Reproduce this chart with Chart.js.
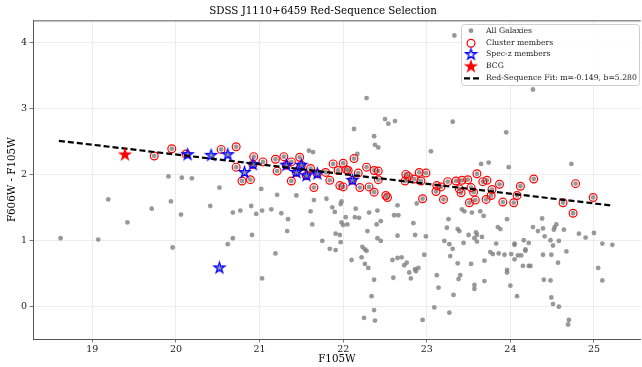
<!DOCTYPE html>
<html>
<head>
<meta charset="utf-8">
<script src="https://cdn.jsdelivr.net/npm/chart.js@4.4.1/dist/chart.umd.min.js"></script>
<style>
  html, body { margin: 0; padding: 0; overflow: hidden; background: #fff; }
</style>
</head>
<body>
<canvas id="rsChart" width="646" height="367"></canvas>
<script>
// --- Data ---
// Field galaxies (not selected as members)
const fieldMag = [
  18.62, 19.07, 19.19, 19.42, 19.71, 19.91, 19.94, 19.96, 20.06, 20.07, 20.19, 20.41, 20.52, 20.62, 20.68, 20.77,
  20.68, 20.90, 20.91, 20.96, 21.02, 21.03, 21.03, 21.14, 21.19, 21.21, 21.26, 21.33, 21.34, 21.44, 21.59, 21.64,
  21.61, 21.63, 21.65, 21.75, 21.80, 21.84, 21.87, 21.90, 21.91, 21.91, 21.96, 21.97, 21.97, 21.98, 21.98, 22.00,
  22.03, 22.05, 22.10, 22.13, 22.14, 22.15, 22.17, 22.19, 22.22, 22.23, 22.25, 22.26, 22.26, 22.28, 22.28, 22.29,
  22.30, 22.31, 22.34, 22.37, 22.37, 22.37, 22.38, 22.38, 22.40, 22.41, 22.41, 22.42, 22.45, 22.45, 22.50, 22.54,
  22.59, 22.60, 22.61, 22.62, 22.65, 22.65, 22.65, 22.66, 22.70, 22.73, 22.76, 22.79, 22.81, 22.84, 22.86, 22.86,
  22.87, 22.88, 22.90, 22.95, 22.97, 22.99, 23.05, 23.09, 23.12, 23.14, 23.21, 23.24, 23.26, 23.27, 23.27, 23.28,
  23.31, 23.31, 23.32, 23.33, 23.37, 23.37, 23.38, 23.39, 23.40, 23.42, 23.44, 23.45, 23.50, 23.53, 23.54, 23.57,
  23.57, 23.57, 23.59, 23.60, 23.60, 23.64, 23.65, 23.66, 23.68, 23.69, 23.69, 23.74, 23.76, 23.79, 23.83, 23.85,
  23.86, 23.88, 23.93, 23.95, 23.96, 23.96, 23.96, 23.98, 24.00, 24.01, 24.05, 24.05, 24.05, 24.08, 24.09, 24.13,
  24.15, 24.16, 24.18, 24.18, 24.22, 24.22, 24.24, 24.27, 24.27, 24.33, 24.38, 24.39, 24.39, 24.40, 24.41, 24.48,
  24.48, 24.49, 24.49, 24.51, 24.51, 24.52, 24.53, 24.55, 24.57, 24.58, 24.58, 24.64, 24.67, 24.69, 24.70, 24.73,
  24.82, 24.90, 25.00, 25.05, 25.10, 25.10, 25.22
];
const fieldColor = [
  1.03, 1.01, 1.62, 1.27, 1.48, 1.97, 1.59, 0.89, 1.39, 1.95, 1.94, 1.52, 1.80, 0.94, 1.42, 1.45,
  1.03, 1.52, 1.08, 1.40, 1.78, 1.45, 0.42, 1.47, 0.80, 1.69, 1.41, 1.14, 1.32, 1.68, 2.36, 2.34,
  1.44, 1.24, 1.61, 0.99, 1.63, 0.87, 1.50, 1.43, 1.10, 0.85, 1.08, 1.55, 0.97, 1.59, 1.27, 1.23,
  1.35, 1.24, 0.70, 2.69, 1.35, 1.48, 2.31, 1.34, 0.74, 0.90, -0.18, 0.86, 0.64, 3.16, 0.84, 1.14,
  0.58, 1.42, 0.15, 2.58, 0.40, -0.06, 2.45, -0.22, 1.24, 1.45, 1.03, 2.41, 1.29, 0.99, 2.84, 2.77,
  0.70, 0.43, 1.38, 2.81, 1.53, 1.07, 0.73, 1.38, 0.74, 0.62, 0.66, 0.51, 0.42, 1.26, 1.08, 0.56,
  0.53, 1.56, 0.58, -0.21, 0.78, 1.06, 2.35, -0.02, 0.47, 0.28, 0.99, 1.19, 1.32, 0.94, -0.10, 0.76,
  2.80, 0.87, 0.17, 4.11, 1.17, 0.65, 0.41, 1.14, 0.47, 1.47, 0.96, 1.44, 1.08, 0.64, 1.42, 1.03,
  0.32, 0.26, 1.12, 1.08, 0.98, 1.44, 2.16, 1.05, 1.37, 0.69, 0.38, 2.18, 0.82, 0.79, 0.95, 1.20,
  0.80, 1.17, 0.78, 2.64, 1.32, 0.55, 0.51, 2.11, 0.31, 0.79, 0.95, 0.93, 0.71, 0.15, 0.77, 0.77,
  0.61, 1.00, 0.86, 0.84, 0.96, 0.61, 0.61, 3.29, 1.20, 1.14, 1.33, 1.18, 0.78, 0.40, 1.06, 1.00,
  0.39, 0.78, 0.13, 0.92, 0.03, 1.16, 1.20, 1.24, 0.66, 0.99, -0.01, 1.16, 0.83, -0.28, -0.21, 2.16,
  1.10, 1.04, 1.11, 0.58, 0.95, 0.39, 0.93
];

// Red-sequence cluster members
const memberMag = [
  19.74, 19.95, 20.12, 20.54, 20.72, 20.72, 20.79, 20.89, 20.93, 20.92, 21.04, 21.19, 21.21, 21.29, 21.32, 21.38,
  21.48, 21.38, 21.44, 21.50, 21.56, 21.61, 21.65, 21.69, 21.79, 21.84, 21.88, 21.94, 21.96, 22.00, 22.00, 22.04,
  22.06, 22.11, 22.13, 22.18, 22.20, 22.28, 22.31, 22.37, 22.42, 22.42, 22.37, 22.51, 22.53, 22.75, 22.78, 22.74,
  22.85, 22.91, 22.99, 22.93, 22.95, 23.12, 23.11, 23.17, 23.25, 23.20, 23.35, 23.42, 23.49, 23.39, 23.41, 23.53,
  23.56, 23.60, 23.67, 23.72, 23.51, 23.58, 23.71, 23.78, 23.77, 23.87, 23.91, 24.04, 24.12, 24.08, 24.28, 24.78,
  24.63, 24.75, 24.99
];
const memberColor = [
  2.28, 2.39, 2.31, 2.38, 2.42, 2.11, 1.90, 1.92, 2.27, 2.15, 2.19, 2.23, 2.05, 2.27, 2.14, 2.19,
  2.26, 1.90, 2.03, 2.14, 1.98, 2.09, 1.80, 2.01, 2.03, 1.91, 2.16, 2.06, 1.83, 2.17, 1.81, 2.07,
  2.06, 1.91, 2.24, 2.02, 1.80, 2.11, 1.81, 2.06, 2.05, 1.92, 1.73, 1.68, 1.65, 2.00, 1.97, 1.90,
  1.93, 2.03, 2.02, 1.90, 1.63, 1.83, 1.74, 1.81, 1.89, 1.62, 1.90, 1.91, 1.92, 1.78, 1.72, 1.80,
  1.73, 2.01, 1.89, 1.91, 1.57, 1.61, 1.62, 1.77, 1.68, 1.85, 1.58, 1.57, 1.82, 1.68, 1.93, 1.86,
  1.57, 1.41, 1.65
];

// Spectroscopically confirmed members
const speczMag   = [20.14, 20.42, 20.62, 20.52, 20.82, 20.92, 21.32, 21.44, 21.50, 21.56, 21.69, 22.11];
const speczColor = [2.30, 2.29, 2.30, 0.58, 2.03, 2.15, 2.14, 2.03, 2.14, 1.98, 2.01, 1.91];

// Brightest cluster galaxy
const bcgMag = [19.39];
const bcgColor = [2.30];

// Red-sequence fit line end points (m=-0.149, b=5.280)
const fitMag = [18.6, 25.2];
const fitColor = [2.51, 1.53];

// Axis ticks
const xTickValues = [19, 20, 21, 22, 23, 24, 25];
const yTickValues = [0, 1, 2, 3, 4];

const FONT = "'DejaVu Serif', serif";
const SPINE = '#555';

// --- Helpers ---
function toPoints(xs, ys) {
  return xs.map((x, i) => ({ x: x, y: ys[i] }));
}

// five-pointed star sprite (Chart.js 'star' is an asterisk, not this)
function starSprite(r, stroke, fill, lw) {
  const size = Math.ceil(2 * r + lw + 2);
  const c = document.createElement('canvas');
  c.width = size;
  c.height = size;
  const g = c.getContext('2d');
  const cx = size / 2, cy = size / 2;
  g.beginPath();
  for (let i = 0; i < 10; i++) {
    const rad = i % 2 ? r * 0.382 : r;
    const a = -Math.PI / 2 + i * Math.PI / 5;
    g.lineTo(cx + rad * Math.cos(a), cy + rad * Math.sin(a));
  }
  g.closePath();
  if (fill) { g.fillStyle = fill; g.fill(); }
  if (stroke) { g.strokeStyle = stroke; g.lineWidth = lw; g.lineJoin = 'miter'; g.stroke(); }
  return c;
}

const speczStar = starSprite(5.6, '#0000ff', null, 1.3);
const speczStarLegend = starSprite(5.6, '#0000ff', '#ffffff', 1.3);
const bcgStar = starSprite(7.6, null, '#ff0000', 0);

const allMag = fieldMag.concat(memberMag, speczMag, bcgMag);
const allColor = fieldColor.concat(memberColor, speczColor, bcgColor);

// --- Plugins ---
const frameAndLegend = {
  id: 'frameAndLegend',
  afterDraw(chart) {
    const ctx = chart.ctx;
    const a = chart.chartArea;
    ctx.save();
    // top spine
    ctx.strokeStyle = SPINE;
    ctx.lineWidth = 1;
    ctx.beginPath();
    ctx.moveTo(a.left, a.top + 0.5);
    ctx.lineTo(a.right, a.top + 0.5);
    ctx.stroke();

    // legend box
    const bx = 461, by = 24, bw = 178, bh = 61;
    ctx.fillStyle = 'rgba(255,255,255,0.85)';
    ctx.strokeStyle = '#cfcfcf';
    ctx.lineWidth = 1;
    ctx.beginPath();
    ctx.roundRect(bx + 0.5, by + 0.5, bw, bh, 3);
    ctx.fill();
    ctx.stroke();

    const mx = 471, tx = 486;
    const rows = [30.7, 43.3, 54.5, 66.5, 78.3];
    const labels = ['All Galaxies', 'Cluster members', 'Spec-z members', 'BCG',
      'Red-Sequence Fit: m=-0.149, b=5.280'];

    // markers
    ctx.fillStyle = 'rgba(128,128,128,0.85)';
    ctx.beginPath();
    ctx.arc(mx, rows[0], 2.4, 0, Math.PI * 2);
    ctx.fill();

    ctx.strokeStyle = '#ff0000';
    ctx.lineWidth = 1.2;
    ctx.beginPath();
    ctx.arc(mx, rows[1], 3.9, 0, Math.PI * 2);
    ctx.stroke();

    ctx.drawImage(speczStarLegend, mx - speczStarLegend.width / 2, rows[2] - speczStarLegend.height / 2);
    ctx.drawImage(bcgStar, mx - bcgStar.width / 2, rows[3] - bcgStar.height / 2);

    ctx.strokeStyle = '#000';
    ctx.lineWidth = 2.2;
    ctx.setLineDash([6, 3]);
    ctx.beginPath();
    ctx.moveTo(mx - 7, rows[4]);
    ctx.lineTo(mx + 8, rows[4]);
    ctx.stroke();
    ctx.setLineDash([]);

    // texts
    ctx.fillStyle = '#222';
    ctx.font = `7.7px ${FONT}`;
    ctx.textBaseline = 'middle';
    ctx.textAlign = 'left';
    labels.forEach((t, i) => ctx.fillText(t, tx, rows[i]));
    ctx.restore();
  }
};

// --- Chart ---
const ctx = document.getElementById('rsChart').getContext('2d');
new Chart(ctx, {
  type: 'scatter',
  data: {
    datasets: [
      {
        label: 'All Galaxies',
        data: toPoints(allMag, allColor),
        pointStyle: 'circle',
        pointRadius: 2.4,
        pointBorderWidth: 0,
        backgroundColor: 'rgba(128,128,128,0.8)',
        borderColor: 'rgba(0,0,0,0)',
        order: 5
      },
      {
        label: 'Cluster members',
        data: toPoints(memberMag, memberColor),
        pointStyle: 'circle',
        pointRadius: 3.9,
        pointBorderWidth: 1.2,
        backgroundColor: 'rgba(0,0,0,0)',
        borderColor: '#ff0000',
        order: 4
      },
      {
        label: 'Spec-z members',
        data: toPoints(speczMag, speczColor),
        pointStyle: speczStar,
        order: 3
      },
      {
        label: 'Red-Sequence Fit: m=-0.149, b=5.280',
        type: 'line',
        data: toPoints(fitMag, fitColor),
        showLine: true,
        borderColor: '#000',
        borderWidth: 2.2,
        borderDash: [6, 3],
        pointRadius: 0,
        fill: false,
        order: 2
      },
      {
        label: 'BCG',
        data: toPoints(bcgMag, bcgColor),
        pointStyle: bcgStar,
        order: 1
      }
    ]
  },
  options: {
    responsive: false,
    animation: false,
    events: [],
    layout: { padding: 0 },
    plugins: {
      legend: { display: false },
      tooltip: { enabled: false },
      title: {
        display: true,
        text: 'SDSS J1110+6459 Red-Sequence Selection',
        color: '#000',
        font: { family: FONT, size: 10.3, weight: 'normal' },
        padding: { top: 5, bottom: 3 }
      }
    },
    scales: {
      x: {
        type: 'linear',
        min: 18.29,
        max: 25.56,
        afterFit: s => { s.height = 28; },
        afterBuildTicks: s => { s.ticks = xTickValues.map(v => ({ value: v })); },
        grid: { color: '#e8e8e8', lineWidth: 0.8, tickColor: SPINE, tickLength: 3.5 },
        border: { color: SPINE, width: 1 },
        ticks: { color: '#222', font: { family: FONT, size: 9.5 }, padding: 1, maxRotation: 0 },
        title: {
          display: true,
          text: 'F105W',
          color: '#000',
          font: { family: FONT, size: 10.3 },
          padding: { top: 0, bottom: 1 }
        }
      },
      y: {
        type: 'linear',
        min: -0.5,
        max: 4.34,
        afterFit: s => { s.width = 33; },
        afterBuildTicks: s => { s.ticks = yTickValues.map(v => ({ value: v })); },
        grid: { color: '#e8e8e8', lineWidth: 0.8, tickColor: SPINE, tickLength: 3.5 },
        border: { color: SPINE, width: 1 },
        ticks: { color: '#222', font: { family: FONT, size: 9.5 }, padding: 2.5 },
        title: {
          display: true,
          text: 'F606W - F105W',
          color: '#000',
          font: { family: FONT, size: 10.3 },
          padding: { top: 6, bottom: 0 }
        }
      }
    }
  },
  plugins: [frameAndLegend]
});
</script>
</body>
</html>
